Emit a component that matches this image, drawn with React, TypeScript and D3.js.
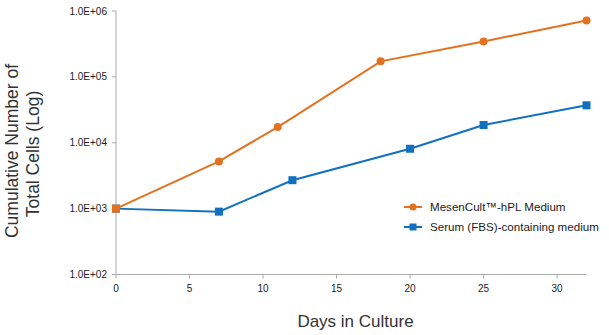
import React from "react";
import * as d3 from "d3";

const days = [0, 7, 11, 18, 25, 32];
const hplValues = [1000, 5200, 17300, 172000, 345000, 720000];
const fbsDays = [0, 7, 12, 20, 25, 32];
const fbsValues = [1000, 900, 2700, 8100, 18600, 37000];
const xTicks = [0, 5, 10, 15, 20, 25, 30];
const yTicks = [1e2, 1e3, 1e4, 1e5, 1e6];
const yTickLabels = ["1.0E+02", "1.0E+03", "1.0E+04", "1.0E+05", "1.0E+06"];
const seriesNames = ["MesenCult™-hPL Medium", "Serum (FBS)-containing medium"];

const W = 609, H = 335;
const ORANGE = "#E2721F";
const BLUE = "#1170C0";
const FONT = "'Liberation Sans', Arial, Helvetica, sans-serif";

export default function App() {
  const x = d3.scaleLinear().domain([0, 32]).range([116, 586.5]);
  const y = d3.scaleLog().domain([1e2, 1e6]).range([274.5, 11]);
  const line = d3.line<[number, number]>().x(d => x(d[0])).y(d => y(d[1]));
  const hpl: [number, number][] = days.map((d, i) => [d, hplValues[i]]);
  const fbs: [number, number][] = fbsDays.map((d, i) => [d, fbsValues[i]]);
  return (
    <svg width={W} height={H} style={{ position: "absolute", left: 0, top: 0, background: "#fff" }} fontFamily={FONT}>
      {/* axes */}
      <line x1={x(0)} x2={x(0)} y1={y(1e6)} y2={y(1e2)} stroke="#aaa" strokeWidth={1} />
      <line x1={x(0)} x2={x(32)} y1={y(1e2)} y2={y(1e2)} stroke="#aaa" strokeWidth={1} />
      {yTicks.map((t, i) => (
        <g key={t}>
          <line x1={x(0) - 4} x2={x(0)} y1={y(t)} y2={y(t)} stroke="#aaa" />
          <text x={x(0) - 9} y={y(t)} dy="0.35em" textAnchor="end" fontSize={10} fill="#222">{yTickLabels[i]}</text>
        </g>
      ))}
      {xTicks.map(t => (
        <g key={t}>
          <line x1={x(t)} x2={x(t)} y1={y(1e2)} y2={y(1e2) + 4} stroke="#aaa" />
          <text x={x(t)} y={y(1e2) + 17} textAnchor="middle" fontSize={10} fill="#222">{t}</text>
        </g>
      ))}
      {/* titles */}
      <text transform="translate(18,151) rotate(-90)" textAnchor="middle" fontSize={17.5} fill="#333">Cumulative Number of</text>
      <text transform="translate(39,154) rotate(-90)" textAnchor="middle" fontSize={17.5} fill="#333">Total Cells (Log)</text>
      <text x={355.5} y={327} textAnchor="middle" fontSize={17} fill="#333">Days in Culture</text>
      {/* series */}
      <path d={line(fbs) || ""} fill="none" stroke={BLUE} strokeWidth={2} />
      {fbs.map((d, i) => (
        <rect key={i} x={x(d[0]) - 4} y={y(d[1]) - 4} width={8} height={8} fill={BLUE} />
      ))}
      <path d={line(hpl) || ""} fill="none" stroke={ORANGE} strokeWidth={2} />
      {hpl.map((d, i) => (
        i === 0
          ? <rect key={i} x={x(d[0]) - 4} y={y(d[1]) - 4} width={8} height={8} fill={ORANGE} />
          : <circle key={i} cx={x(d[0])} cy={y(d[1])} r={4} fill={ORANGE} />
      ))}
      {/* legend */}
      <g>
        <line x1={404} x2={422} y1={207} y2={207} stroke={ORANGE} strokeWidth={2} />
        <circle cx={413} cy={207} r={3.5} fill={ORANGE} />
        <text x={430} y={207} dy="0.35em" fontSize={11.6} fill="#222">{seriesNames[0]}</text>
        <line x1={404} x2={422} y1={227} y2={227} stroke={BLUE} strokeWidth={2} />
        <rect x={409.5} y={223.5} width={7} height={7} fill={BLUE} />
        <text x={430} y={227} dy="0.35em" fontSize={11.6} fill="#222">{seriesNames[1]}</text>
      </g>
    </svg>
  );
}
